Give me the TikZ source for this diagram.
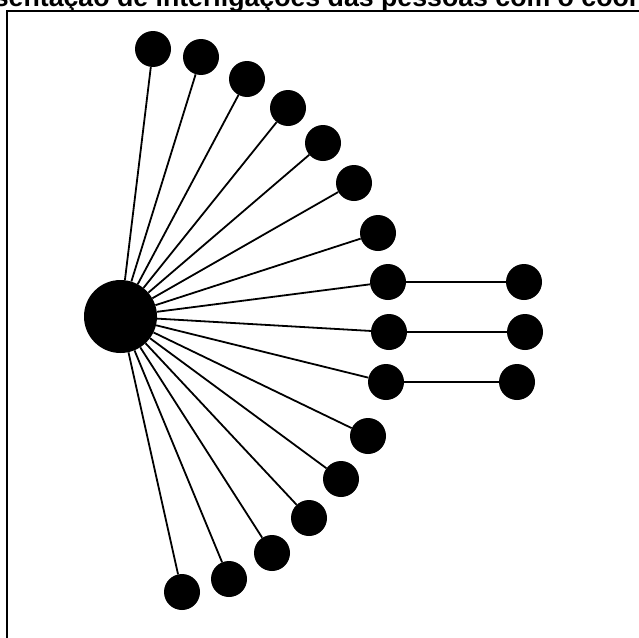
\documentclass[tikz,border=0pt]{standalone}
\usepackage{fontspec}
\setmainfont{Liberation Sans}

\begin{document}
\begin{tikzpicture}[
    x=1pt, y=-1pt,
    hub/.style={circle, fill=black, minimum size=73pt, inner sep=0pt},
    person/.style={circle, fill=black, minimum size=36pt, inner sep=0pt},
    link/.style={line width=1.8pt}
]
\useasboundingbox (0,0) rectangle (639,637);
\clip (0,0) rectangle (639,637);
\node[anchor=base west, inner sep=0pt, font=\bfseries\fontsize{26.7}{30}\selectfont] (title) at (-82,6) {Representação de interligações das pessoas com o coordenador};
\draw[line width=2pt] (7,11) rectangle (700,700);
\node[hub] (c) at (120.5,316.5) {};
\node[person] (p1) at (153,49) {};
\node[person] (p2) at (201,57) {};
\node[person] (p3) at (247,79) {};
\node[person] (p4) at (288,108) {};
\node[person] (p5) at (323,143) {};
\node[person] (p6) at (354,183) {};
\node[person] (p7) at (378,233) {};
\node[person] (p8) at (388,282) {};
\node[person] (p9) at (389,332) {};
\node[person] (p10) at (386,382) {};
\node[person] (p11) at (368,436) {};
\node[person] (p12) at (341,479) {};
\node[person] (p13) at (309,518) {};
\node[person] (p14) at (272,553) {};
\node[person] (p15) at (229,579) {};
\node[person] (p16) at (182,592) {};
\node[person] (r1) at (524,282) {};
\node[person] (r2) at (525,332) {};
\node[person] (r3) at (517,382) {};
\draw[link] (c) -- (p1);
\draw[link] (c) -- (p2);
\draw[link] (c) -- (p3);
\draw[link] (c) -- (p4);
\draw[link] (c) -- (p5);
\draw[link] (c) -- (p6);
\draw[link] (c) -- (p7);
\draw[link] (c) -- (p8);
\draw[link] (c) -- (p9);
\draw[link] (c) -- (p10);
\draw[link] (c) -- (p11);
\draw[link] (c) -- (p12);
\draw[link] (c) -- (p13);
\draw[link] (c) -- (p14);
\draw[link] (c) -- (p15);
\draw[link] (c) -- (p16);
\draw[link] (p8) -- (r1);
\draw[link] (p9) -- (r2);
\draw[link] (p10) -- (r3);
\end{tikzpicture}
\end{document}
